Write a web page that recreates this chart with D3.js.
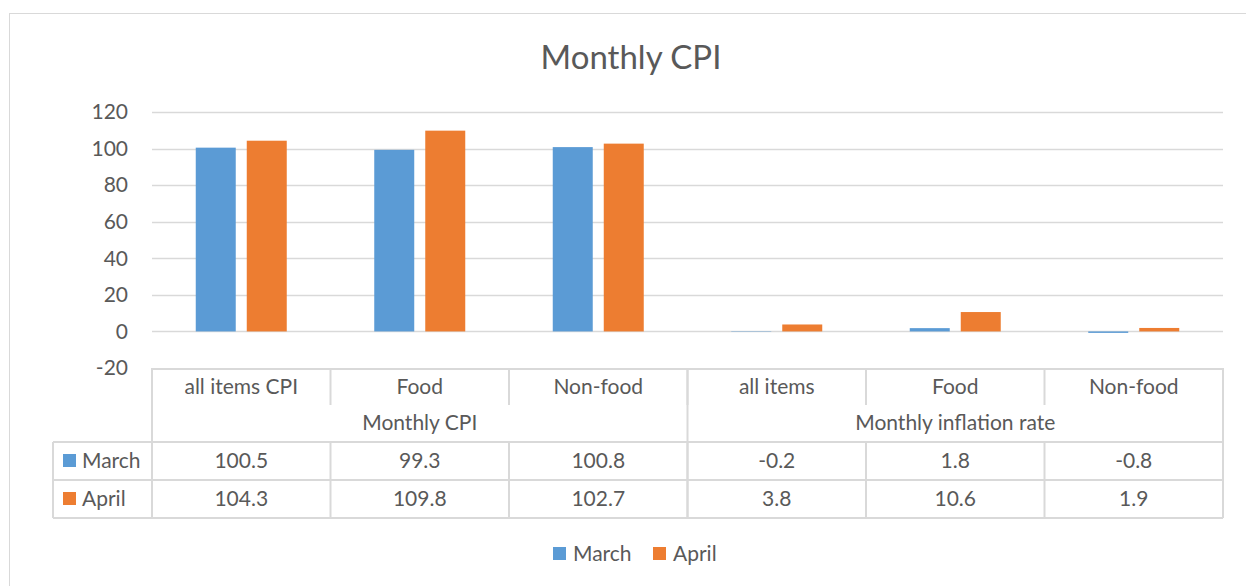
<!DOCTYPE html>
<html>
<head>
<meta charset="utf-8">
<script src="https://cdn.jsdelivr.net/npm/d3@7"></script>
<style>
  body { margin: 0; background: #fff; }
  svg text { font-family: Lato, "Open Sans", sans-serif; fill: #595959; }
</style>
</head>
<body>
<div id="chart"></div>
<script>
// ===== Data =====
const categories = ["all items CPI", "Food", "Non-food", "all items", "Food", "Non-food"];
const groups = ["Monthly CPI", "Monthly inflation rate"];
const groupSize = [3, 3];
const seriesNames = ["March", "April"];
const seriesColors = ["#5B9BD5", "#ED7D31"];
const march = [100.5, 99.3, 100.8, -0.2, 1.8, -0.8];
const april = [104.3, 109.8, 102.7, 3.8, 10.6, 1.9];
const yTicks = [-20, 0, 20, 40, 60, 80, 100, 120];

const width = 1246, height = 586;
const plot = {left: 152, right: 1223, top: 112, bottom: 368};
const gridColor = "#d9d9d9";
const rowH = 38;
const fontSize = "21px";

// plain hyphen instead of unicode minus, like the original
const fmt = d => String(d);

const svg = d3.select("#chart").append("svg")
              .attr("width", width)
              .attr("height", height);

// chart frame
svg.append("rect")
   .attr("x", 9.5).attr("y", 13.5)
   .attr("width", 1260).attr("height", 600)
   .attr("fill", "#fff")
   .attr("stroke", gridColor);

// title
svg.append("text")
   .attr("x", 631).attr("y", 69)
   .attr("text-anchor", "middle")
   .style("font-size", "33px")
   .text("Monthly CPI");

const idx = d3.range(categories.length);
const x = d3.scaleBand().domain(idx).range([plot.left, plot.right]).paddingInner(0).paddingOuter(0);
const x1 = d3.scaleBand().domain(seriesNames).range([0, 91]).paddingInner(0.216);
const barOffset = (x.bandwidth() - 91) / 2;
const y = d3.scaleLinear().domain([-20, 120]).range([plot.bottom, plot.top]);

// y axis with gridlines
const yAxis = d3.axisLeft(y).tickValues(yTicks).tickSize(0).tickPadding(24).tickFormat(fmt);
const yg = svg.append("g").attr("transform", `translate(${plot.left},0)`).call(yAxis);
yg.select(".domain").remove();
yg.selectAll("text").style("font-size", fontSize).attr("fill", "#595959");

svg.append("g").selectAll("line")
   .data(yTicks.filter(d => d > -20))
   .join("line")
   .attr("x1", plot.left).attr("x2", plot.right)
   .attr("y1", d => Math.round(y(d)) + 0.5).attr("y2", d => Math.round(y(d)) + 0.5)
   .attr("stroke", gridColor).attr("stroke-width", 1.5);

// bars
const seriesData = [march, april];
seriesData.forEach((vals, s) => {
    svg.append("g").selectAll("rect")
       .data(vals)
       .join("rect")
       .attr("x", (d, i) => x(i) + barOffset + x1(seriesNames[s]))
       .attr("width", x1.bandwidth())
       .attr("y", d => y(Math.max(0, d)))
       .attr("height", d => Math.abs(y(d) - y(0)))
       .attr("fill", seriesColors[s]);
});

// ===== data table =====
const table = svg.append("g");
const tTop = plot.bottom;
const catRowBottom = tTop + 37;
const groupRowBottom = tTop + 74;
const tableLeft = 53;

function hline(x1v, x2v, yv) {
    table.append("line").attr("x1", x1v).attr("x2", x2v).attr("y1", yv).attr("y2", yv)
         .attr("stroke", gridColor).attr("stroke-width", 2);
}
function vline(xv, y1v, y2v) {
    table.append("line").attr("x1", xv).attr("x2", xv).attr("y1", y1v).attr("y2", y2v)
         .attr("stroke", gridColor).attr("stroke-width", 2);
}

hline(plot.left, plot.right, tTop + 1);
hline(tableLeft, plot.right, groupRowBottom);
hline(tableLeft, plot.right, groupRowBottom + rowH);
hline(tableLeft, plot.right, groupRowBottom + rowH * 2);
vline(tableLeft, groupRowBottom, groupRowBottom + rowH * 2);
vline(plot.left, tTop, groupRowBottom + rowH * 2);
vline(plot.right, tTop, groupRowBottom + rowH * 2);

// category separators in header, group separator spans group row
let acc = 0;
groupSize.forEach((n, g) => {
    acc += n;
    if (acc < categories.length) vline(x(acc), tTop, groupRowBottom + rowH * 2);
});
idx.slice(1).forEach(i => vline(x(i), tTop, catRowBottom));
idx.slice(1).forEach(i => vline(x(i), groupRowBottom, groupRowBottom + rowH * 2));

table.selectAll("text.cat")
     .data(categories)
     .join("text")
     .attr("x", (d, i) => x(i) + x.bandwidth() / 2)
     .attr("y", tTop + 26)
     .attr("text-anchor", "middle")
     .style("font-size", fontSize)
     .text(d => d);

let start = 0;
groups.forEach((g, gi) => {
    const x0 = x(start);
    const xEnd = x(start + groupSize[gi] - 1) + x.bandwidth();
    table.append("text")
         .attr("x", (x0 + xEnd) / 2)
         .attr("y", catRowBottom + 25)
         .attr("text-anchor", "middle")
         .style("font-size", fontSize)
         .text(g);
    start += groupSize[gi];
});

seriesData.forEach((vals, s) => {
    const rowTop = groupRowBottom + rowH * s;
    table.append("rect")
         .attr("x", 63).attr("y", rowTop + 12)
         .attr("width", 13).attr("height", 13)
         .attr("fill", seriesColors[s]);
    table.append("text")
         .attr("x", 82).attr("y", rowTop + 26)
         .style("font-size", fontSize)
         .text(seriesNames[s]);
    table.selectAll("text.v" + s)
         .data(vals)
         .join("text")
         .attr("x", (d, i) => x(i) + x.bandwidth() / 2)
         .attr("y", rowTop + 26)
         .attr("text-anchor", "middle")
         .style("font-size", fontSize)
         .text(d => d.toFixed(1));
});

// legend
const legend = svg.append("g");
const legendX = [553, 653];
seriesNames.forEach((n, s) => {
    legend.append("rect")
          .attr("x", legendX[s]).attr("y", 547)
          .attr("width", 13).attr("height", 13)
          .attr("fill", seriesColors[s]);
    legend.append("text")
          .attr("x", legendX[s] + 20).attr("y", 561)
          .style("font-size", fontSize)
          .text(n);
});
</script>
</body>
</html>
